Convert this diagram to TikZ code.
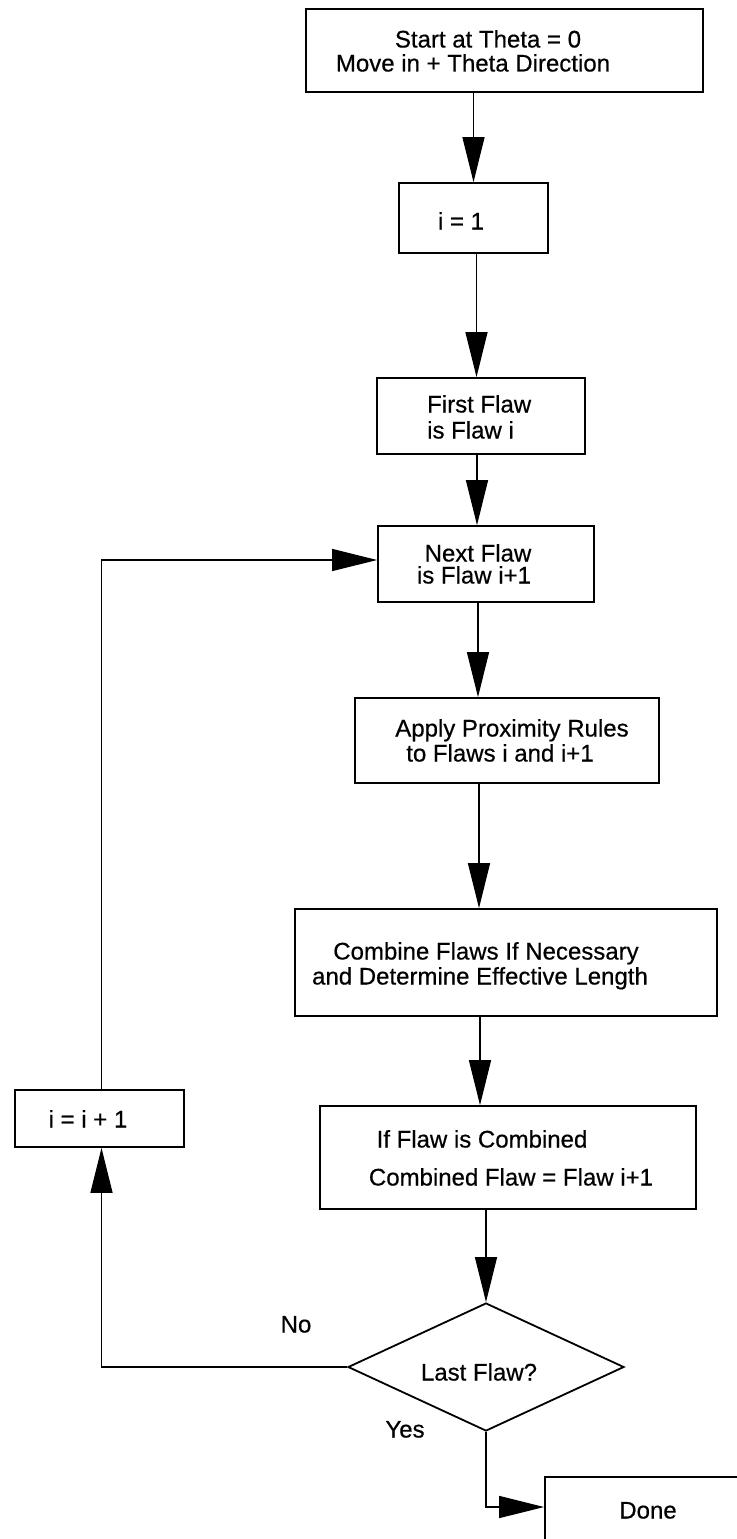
\documentclass[tikz,border=0pt]{standalone}
\usepackage{fontspec}
\setmainfont{Liberation Sans}
\newfontfamily\medfont[FakeBold=0.5]{Liberation Sans}
\usetikzlibrary{arrows.meta,shapes.geometric}
\begin{document}
\begin{tikzpicture}[x=1bp,y=-1bp,
  box/.style={draw, line width=1.8bp, rectangle, inner sep=0pt},
  conn/.style={line width=1.4bp, -{Triangle[length=45bp,width=22bp]}},
  txt/.style={inner sep=0pt, anchor=base, font=\medfont\fontsize{24bp}{28bp}\selectfont},
  txtl/.style={txt, anchor=base west}]
\useasboundingbox (0,0) rectangle (737,1539);
\clip (0,0) rectangle (737,1539);
% boxes
\node[box, minimum width=397bp, minimum height=83bp] (b1) at (504.5,50.5) {};
\node[box, minimum width=149bp, minimum height=70bp] (b2) at (473.5,218) {};
\node[box, minimum width=208bp, minimum height=76bp] (b3) at (481,416) {};
\node[box, minimum width=216bp, minimum height=76bp] (b4) at (486,564) {};
\node[box, minimum width=304bp, minimum height=85bp] (b5) at (507,740.5) {};
\node[box, minimum width=422bp, minimum height=107bp] (b6) at (506,962.5) {};
\node[box, minimum width=376bp, minimum height=103bp] (b7) at (508,1157.5) {};
\node[box, minimum width=169bp, minimum height=57bp] (b8) at (99.5,1118.5) {};
\node[draw, line width=1.8bp, diamond, inner sep=0pt, minimum width=276bp, minimum height=128bp] (dia) at (486,1367) {};
\node[box, minimum width=255bp, minimum height=123bp] (done) at (672.5,1538.5) {};
% texts
\node[txt] (t1a) at (488,47.5) {Start at Theta = 0};
\node[txt] (t1b) at (473,71.5) {Move in + Theta Direction};
\node[txt] (t2) at (461,229.5) {i = 1};
\node[txtl] (t3a) at (427,412.5) {First Flaw};
\node[txtl] (t3b) at (427,438.5) {is Flaw i};
\node[txt] (t4a) at (478,561.5) {Next Flaw};
\node[txt] (t4b) at (474,583.5) {is Flaw i+1};
\node[txt] (t5a) at (512,736.5) {Apply Proximity Rules};
\node[txt] (t5b) at (500,761.5) {to Flaws i and i+1};
\node[txt] (t6a) at (486,959.5) {Combine Flaws If Necessary};
\node[txt] (t6b) at (480,984.5) {and Determine Effective Length};
\node[txt] (t7a) at (482,1147.5) {If Flaw is Combined};
\node[txt] (t7b) at (511,1185.5) {Combined Flaw = Flaw i+1};
\node[txt] (t8) at (88,1127.5) {i = i + 1};
\node[txt] (t9) at (479,1380.5) {Last Flaw?};
\node[txt] (tno) at (296,1332.5) {No};
\node[txt] (tyes) at (405,1437.5) {Yes};
\node[txt] (tdone) at (648,1518.5) {Done};
% connectors
\draw[conn] (b1.south -| b2.north) -- (b2.north);
\draw[conn] ([xshift=3bp]b2.south) -- ([xshift=3bp]b2.south |- b3.north);
\draw[conn] ([xshift=-4bp]b3.south) -- ([xshift=-4bp]b3.south |- b4.north);
\draw[conn] ([xshift=-8bp]b4.south) -- ([xshift=-8bp]b4.south |- b5.north);
\draw[conn] ([xshift=-28bp]b5.south) -- ([xshift=-28bp]b5.south |- b6.north);
\draw[conn] ([xshift=-26bp]b6.south) -- ([xshift=-26bp]b6.south |- b7.north);
\draw[conn] (b7.south -| dia.north) -- (dia.north);
\draw[conn] (dia.west) -| ([xshift=2bp]b8.south);
\draw[conn] ([xshift=2bp]b8.north) |- ([yshift=4bp]b4.west);
\draw[conn] (dia.south) |- ([yshift=31.5bp]done.west);
\end{tikzpicture}
\end{document}
